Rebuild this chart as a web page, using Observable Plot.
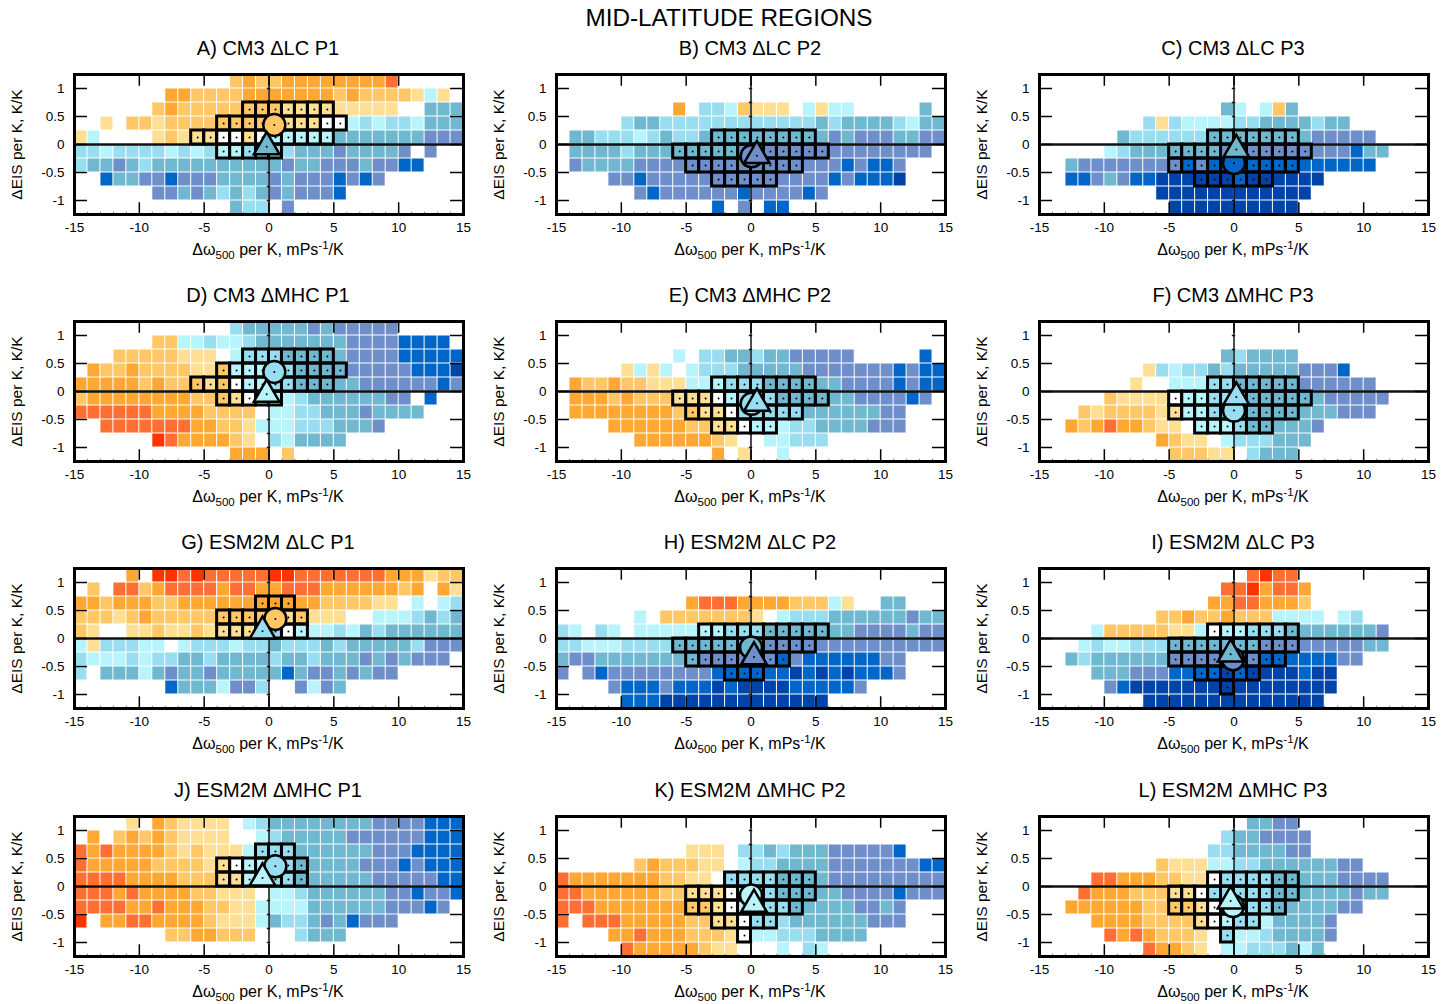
<!DOCTYPE html>
<html><head><meta charset="utf-8">
<script src="https://cdn.jsdelivr.net/npm/d3@7"></script>
<script src="https://cdn.jsdelivr.net/npm/@observablehq/plot@0.6"></script>
<style>
html,body{margin:0;padding:0;background:#fff}
#page{position:relative;width:1453px;height:1004px;overflow:hidden;font-family:"Liberation Sans",Arial,sans-serif;color:#000}
#page svg{position:absolute;overflow:visible}
.lbl{position:absolute;text-align:center;white-space:nowrap}
.lbl sub,.lbl sup{font-size:72%;line-height:0}
</style></head><body><div id="page"></div>
<script>
// Colour classes: R red, O orange-red, A orange, L light orange, Y pale yellow, W white,
// C pale cyan, S sky, T teal, B slate blue, D blue, N navy, . no data
const levels = ["R","O","A","L","Y","W","C","S","T","B","D","N"];
const palette = ["#FF3300","#FF6E33","#FFA733","#FFC766","#FFDF94","#FFFFFF","#B8F4FB","#99DEF0","#6FB8CF","#6F8FCB","#0066C7","#0044AA"];

const xTicks = [-15,-10,-5,0,5,10,15];
const yTicks = [-1,-0.5,0,0.5,1];
const xMinor = [-14,-13,-12,-11,-9,-8,-7,-6,-4,-3,-2,-1,1,2,3,4,6,7,8,9,11,12,13,14];
const yMinor = [-1,-0.75,-0.5,-0.25,0.25,0.5,0.75,1];
const panelTitles = ["A) CM3 ΔLC P1","B) CM3 ΔLC P2","C) CM3 ΔLC P3","D) CM3 ΔMHC P1","E) CM3 ΔMHC P2","F) CM3 ΔMHC P3","G) ESM2M ΔLC P1","H) ESM2M ΔLC P2","I) ESM2M ΔLC P3","J) ESM2M ΔMHC P1","K) ESM2M ΔMHC P2","L) ESM2M ΔMHC P3"];

// each string: one row of 30 bins (x -15..15), rows from y 1.25 down to -1.25
const cellsA = ["............LALLAAAAAAAAO.....",".......AALLLLAAAAAAALALLLLYCY.","......LALLLLLLLLYYYYYYYYY..TTT","..Y.LLYLLLLLLLLLYYYWWCSCSSCTTT","YC....YLYYYWWYWCCCCCTTTTTTTBBB","SSCSSSSCSCSCCSSSSTTTBTTTTB.B..","STTBTSTTTTTTTTTTBTTBBBTBBDD...","..DTTBBDBBBTTTTBTBBBDBDB......","......BBTBTSTSTBTBBBD.........","............TSS.B............."];
const cellsB = ["..............................","..............................",".........A.SSCLYYY.CYCC.....T.",".....STTSSSSSSSSSSSSTSTTTTSCTT",".TTSSSCSTSSTTTTTTTTTTBTBBBTTBB",".TTTTSTTTTTTTTBBBBBBBBBBBBBBB.",".BTTTTBBBBBBBBBBBBBBBBDBDDB...","....BBDBBBBBBBBBBBBBBDBDDDN...","......BDBBBBBBDBBBBDB.........","............D.B.DD............"];
const cellsC = ["..............................","..............................","..............TC.CLT..........","........SYSCCCCSSTTTTSTT......","......TSSSSSSTTTTTTTTBBBBB....",".....CSTTTTTTTBBBBBBBBBBDTT...","..TBBBBBBBBDBDDDDDDDDDDDDD....","..DDBTBDDNNNNNNDNNNNNN........",".........NNNNNNNNNNNN.........","..........NNNNNNNNNN.........."];
const cellsD = ["............STTTTTBTBBBBB.....","......LLCCSCCSTTTTTTTBBBBDDDD.","...LLLLLYYY.CSSSTTTTTBBBBDDDDD",".ALLALLLLYYLCCCSSTTTTBBBBBDDDN","AAAAALALLLYLWCCSSTTTTTBBBBBBDB","LAAAAAAAALLLYWCCCSTTTTTTBB.D..","OOOOOOAAAALLLL.CCSSTTTBTTTT...","..OOOOOOOAALLYCCCSSSTTTB......","......ROAAAALY.SCTTTT.........","............AAA.L............."];
const cellsE = ["..............................","..............................",".........C.SSTTSTTBBBBB.....D.",".....YCYC.CSSSTTTTTBBBBBBBDBDD",".ALLALLYYYCCCSSSTTTTTTBBBBDBDD",".AAALALLLYYYWCSSSTTTTTTBBBBDB.",".AAAAAAAALLYYWSSSSSTTTTTTBB...","....AAAAAALLYYWCCCSSTTTTBBB...","......AAAAAALY..CCSSS.........","............A.Y..C............"];
const cellsF = ["..............................","..............................","..............TSTTTT..........","........YSCSSTSTTTTTBBBD......",".......Y..CCCSSTTTTTBBBBBB....",".....LYYYYWCCSSSTTTTTTBBBBB...","...LYLLLLYYCCSSSTTTTTTTBBB....","..ALAOAALYY.CCCSTTTTTB........",".........ALYY.CSSSTTT.........","..........LLLYY.STTT.........."];
const cellsG = ["....A.RROROOOOORROOOOOOOAAAYLL",".L.OOLAOOOOAOOAAOOOAAAAAALA.AY","AALAAALLAAAAAAAAAAALLLLYY.C.CS","LLLYLALLLLLLLLLLYLYYY..CCCSTST","LY..YYLYYLYYYYSSWCCCSCTSTTTTTT","CYSSSCCWCSSSCSSTSSSTSTTTTTSBBB","SCCCSCSSTTSTTTTSTTSTTTBTBTBBB.","S.TTTCTBTTBTTTTTDTBBTBTBB.....",".......DTTTCBBS..BCBT.........",".............................."];
const cellsH = ["..............................","..............................","..........AOOOAAAALLLCY..TT...","......C.LLLLLLLY.CSSSTTTTTTBTT","SC.SC.CCCCCCCSSSTTTTTTTBBBBTBB","SSCCCSSSSTTTTTTTBBBBBBBBBBBBBB","TBBTTTTTTTTBBBBBBDBDDDDDDBB...","B.BDBBBBBBBBDDDDDDNDNDNDDDB...","....BDDDBDDDNDNNNNDDDDDB......",".....DDDNNNNNNNNNNNNN........."];
const cellsI = ["................OROO..........","..............OORAOOA.........",".............AAOOAAAL.........",".........LLALLALLLCCCC.CS.....","....CLLLLLYYCWCCSSSTTTTTTTB...","...CSCCSSSTTTTTTTBBBBBBBBTT...","..TSTTTTTTBBBBBBBDDDDDDBB.....","....TTTBBBDDDDNDNNNNDNN.......",".....BDNNNNNNNNNNNNNNNN.......","........NNNNNNNNNNNNNN........"];
const cellsJ = ["....Y.ALYYYY.CSTTTTTTTTBBBBDDD",".A.LALALYYYY..CSTTTTTBBBBBBDDD","OAOAAAALYLYYYCSSSTTTTTTBBBDDDD","OAAAAALLLLYYWCCSSTTTTTBBBDBDDD","OOOOAAAALLLYYCCSSTTTTTTBBBBBDD","OOOAOAAAALLYYY.CCSTTTTTTBBDBBD","OOOOAAOAAALLYYCCCCTTTTTTBBBDB.","R.AAOOAAAALYYYCTSSTBTDBBB.....",".......LLAALLL...STTT.........",".............................."];
const cellsK = ["..............................","..............................","..........YYY.SSTSTTTBBBBBD...","......LALLLYY.CSSTTTTBBBBBBBDD","OAAAAAAALLYY.SSSSTTTTBBBBBBBBB","OOAAAAAALLYYYWCCSTTTTTBBBBDBBB","OOOAAAAAAALLYWCCSSTTTTTBBTB...","O.OOOAAAAALLYYWSSSTTTTTTBBB...","....AAOAAALLLYWCCSSSTTTT......",".....OAAAAALYY...C.SC........."];
const cellsL = ["................TTBB..........","..............STTBBBB.........",".............SSTTTTBB.........",".........LYYYCCSSTTTTTTBB.....","....OOAAALLYYWSSSSTTTTTBBBB...","...OAAALLLYYWSSSSSTTTTTTBTT...","..AAAAAALLLLYWCCSSTTTTTBB.....","....AAAALLLLYWCSSCTTTTB.......",".....OAOALLLY.SCCSTTTTB.......","........OAALY.CCSSSTCT........"];
const allCells = [cellsA,cellsB,cellsC,cellsD,cellsE,cellsF,cellsG,cellsH,cellsI,cellsJ,cellsK,cellsL];

// outlined bins: [row, first column, last column]
const boxesP1CM3 = [[2,13,19],[3,11,20],[4,9,19],[5,11,15]];
const boxesP2CM3 = [[4,12,19],[5,9,20],[6,10,18],[7,12,16]];
const boxesP3CM3 = [[4,13,19],[5,10,20],[6,10,19],[7,12,17]];
const boxesP1ESM = [[2,14,16],[3,11,17],[4,11,17]];
const boxesP2H = [[4,11,20],[5,9,19],[6,10,17],[7,13,15]];
const boxesP3I = [[4,13,19],[5,10,19],[6,10,18],[7,12,16],[8,14,14]];
const boxesP2K = [[4,13,19],[5,10,19],[6,10,18],[7,12,16],[8,14,14]];
const allBoxes = [boxesP1CM3,boxesP2CM3,boxesP3CM3,boxesP1CM3,boxesP2CM3,boxesP3CM3,boxesP1ESM,boxesP2H,boxesP3I,boxesP1ESM,boxesP2K,boxesP3I];

// mean markers
const circleX = [0.41,0.05,0,0.41,0.05,0,0.49,0,-0.08,0.49,0,-0.08];
const circleY = [0.35,-0.21,-0.33,0.35,-0.22,-0.34,0.35,-0.16,-0.37,0.36,-0.16,-0.35];
const circleK = ["L","B","D","S","S","S","L","T","B","S","C","C"];
const triX = [-0.18,0.45,0.18,-0.18,0.46,0.18,-0.5,0.23,-0.26,-0.5,0.23,-0.26];
const triY = [-0.04,-0.2,-0.09,-0.05,-0.21,-0.1,0.13,-0.33,-0.28,0.15,-0.32,-0.26];
const triK = ["T","B","T","C","S","S","S","B","T","C","C","C"];

const frameLefts = [74,556,1039];
const frameTops = [74,321,568,816];
const W = 389, H = 140, mL = 72, mR = 20, mT = 10, mB = 26;
const page = document.getElementById("page");

function addLabel(html,cx,cy,size){
  const d=document.createElement("div");d.className="lbl";d.innerHTML=html;
  d.style.fontSize=size+"px";d.style.left=(cx-300)+"px";d.style.width="600px";
  d.style.top=(cy-size*0.6)+"px";d.style.lineHeight=(size*1.2)+"px";page.appendChild(d);
}
addLabel("MID-LATITUDE REGIONS",729,18,24.3);

allCells.forEach((rows,p)=>{
  const c=p%3, r=Math.floor(p/3), fl=frameLefts[c], ft=frameTops[r];
  const bin=(row,col,k)=>({x1:col-15,x2:col-14,y2:1.25-row*0.25,y1:1-row*0.25,k});
  const cells=rows.flatMap((s,row)=>[...s].map((k,col)=>k==="."?null:bin(row,col,k)).filter(Boolean));
  const boxed=allBoxes[p].flatMap(([row,a,b])=>d3.range(a,b+1).map(col=>bin(row,col)));
  const plot=Plot.plot({
    width:W+mL+mR,height:H+mT+mB,marginLeft:mL,marginRight:mR,marginTop:mT,marginBottom:mB,
    style:{fontFamily:'"Liberation Sans",Arial,sans-serif',fontSize:"13.5px",background:"transparent",color:"#000"},
    x:{domain:[-15,15]},y:{domain:[-1.25,1.25]},
    color:{type:"ordinal",domain:levels,range:palette},
    marks:[
      Plot.rect(cells,{x1:"x1",x2:"x2",y1:"y1",y2:"y2",fill:d=>d.k,inset:0.5}),
      Plot.ruleX([0],{stroke:"#111",strokeWidth:1.5}),
      Plot.ruleY([0],{stroke:"#111",strokeWidth:2.4}),
      Plot.ruleY(yMinor,{x1:-0.13,x2:0.13,stroke:"#111",strokeWidth:1.5}),
      Plot.ruleX(xTicks,{y1:-1.25,y2:-1.04,stroke:"#000",strokeWidth:1.5}),
      Plot.ruleX(xTicks,{y1:1.25,y2:1.04,stroke:"#000",strokeWidth:1.5}),
      Plot.ruleX(xMinor,{y1:-1.25,y2:-1.21,stroke:"#555",strokeWidth:0.8}),
      Plot.ruleX(xMinor,{y1:1.25,y2:1.21,stroke:"#555",strokeWidth:0.8}),
      Plot.ruleY(yTicks,{x1:-15,x2:-14,stroke:"#000",strokeWidth:1.5}),
      Plot.ruleY(yTicks,{x1:14,x2:15,stroke:"#000",strokeWidth:1.5}),
      Plot.rect(boxed,{x1:"x1",x2:"x2",y1:"y1",y2:"y2",fill:"none",stroke:"#000",strokeWidth:3}),
      Plot.dot(boxed,{x:d=>(d.x1+d.x2)/2,y:d=>(d.y1+d.y2)/2,r:1,fill:"#000"}),
      Plot.dot([0],{x:()=>circleX[p],y:()=>circleY[p],r:11,fill:()=>circleK[p],stroke:"#000",strokeWidth:2.5}),
      Plot.dot([0],{x:()=>circleX[p],y:()=>circleY[p],r:1,fill:"#000"}),
      Plot.dot([0],{x:()=>triX[p],y:()=>triY[p],symbol:"triangle",r:9.5,fill:()=>triK[p],stroke:"#000",strokeWidth:2.5}),
      Plot.dot([0],{x:()=>triX[p],y:()=>triY[p],r:1,fill:"#000"}),
      Plot.frame({stroke:"#000",strokeWidth:3}),
      Plot.axisX({ticks:xTicks,tickSize:0,tickPadding:8,label:null,tickFormat:d=>String(d)}),
      Plot.axisY({ticks:yTicks,tickSize:0,tickPadding:10,tickFormat:d=>String(d),label:null}),
      Plot.axisY({ticks:[],tickSize:0,label:"ΔEIS per K, K/K",fontSize:15.5,labelAnchor:"center",labelArrow:"none",labelOffset:64})
    ]
  });
  plot.style.left=(fl-mL)+"px";plot.style.top=(ft-mT)+"px";
  page.appendChild(plot);
  addLabel(panelTitles[p],fl+194,ft-26.5,20);
  addLabel('Δω<sub>500</sub> per K, mPs<sup>-1</sup>/K',fl+194,ft+176,16);
});
</script></body></html>
